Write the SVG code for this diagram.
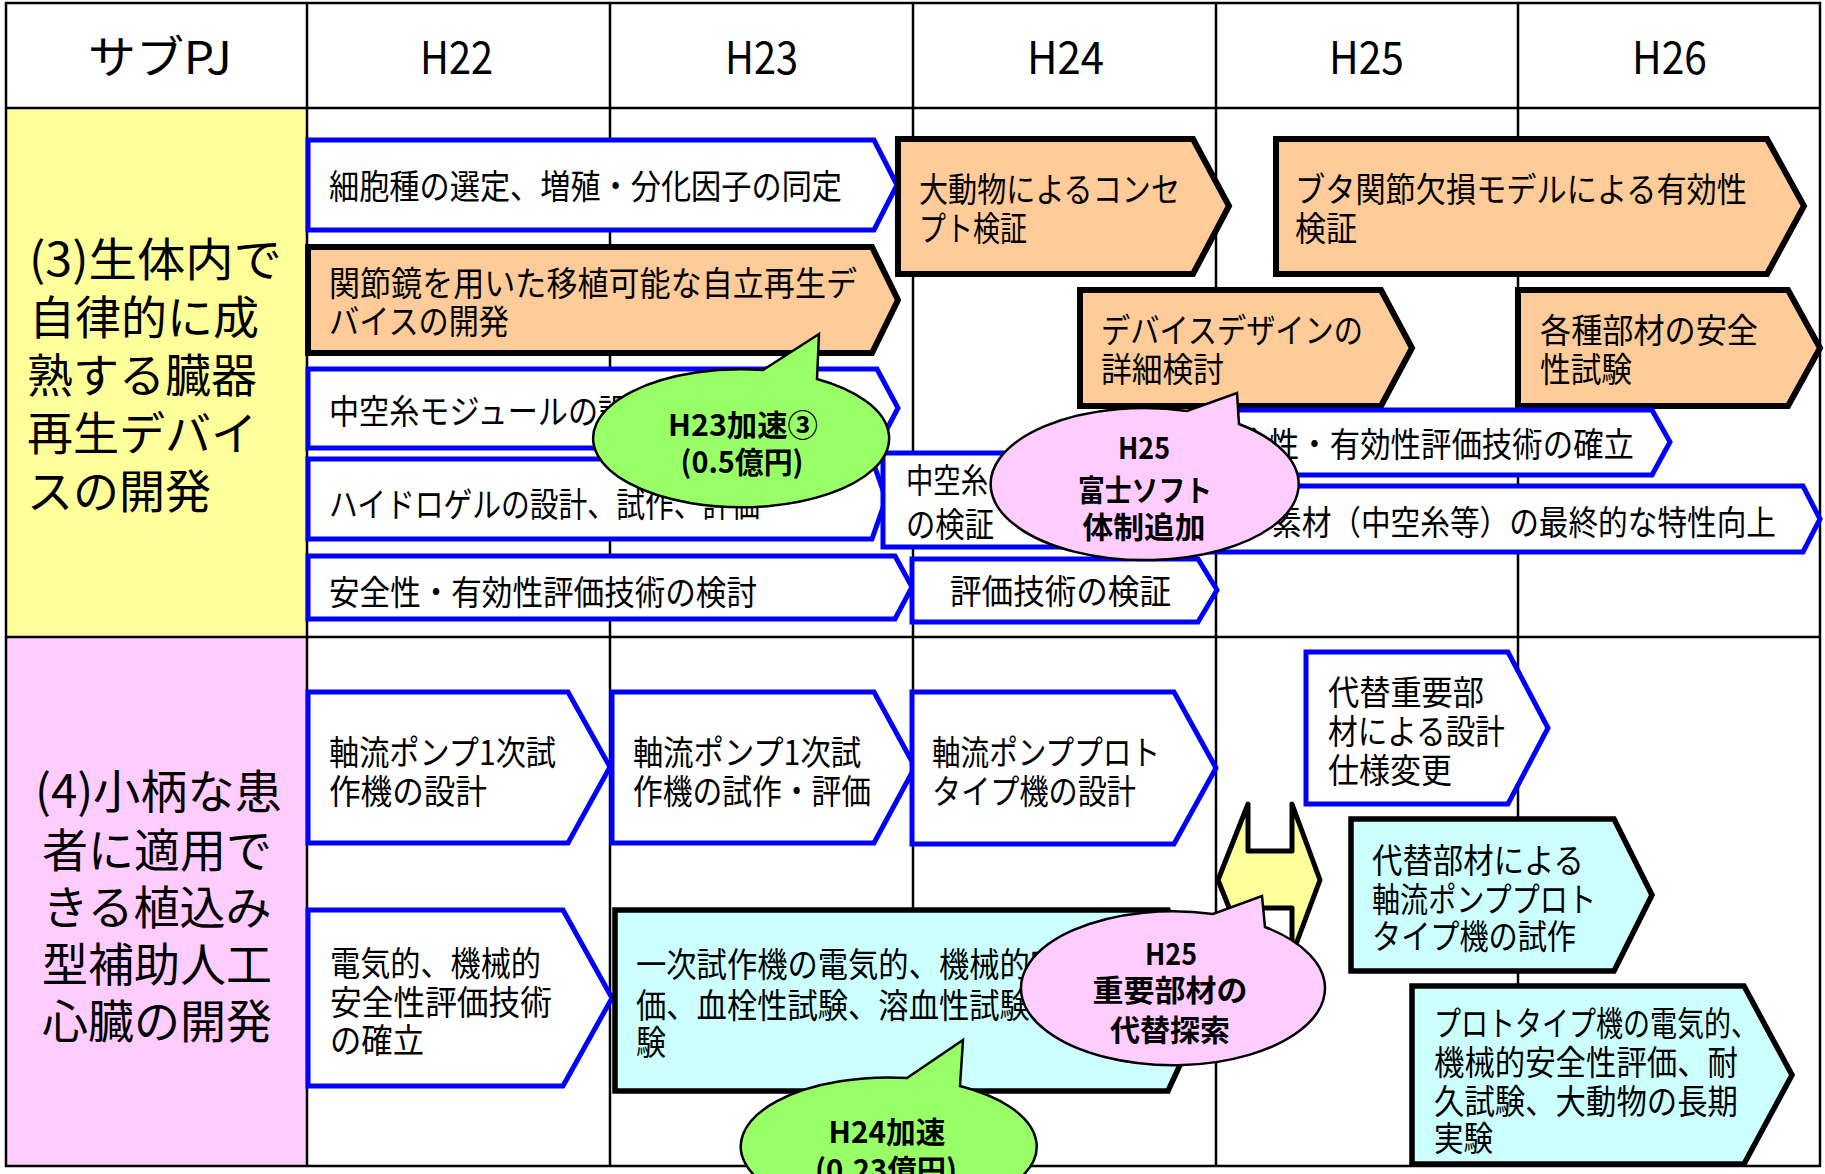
<svg xmlns="http://www.w3.org/2000/svg" width="1825" height="1174" viewBox="0 0 1825 1174">
<style>
.t{font-family:"Noto Sans CJK JP","Noto Sans",sans-serif;font-size:34px;fill:#000}
.hd{font-size:45px}
.lab{font-size:46px}
.b{font-weight:bold;font-size:30px;text-anchor:middle}
.mid{text-anchor:middle}
.blue{fill:#fff;stroke:#0000ff;stroke-width:5;stroke-linejoin:miter}
.org{fill:#ffcc99;stroke:#000;stroke-width:6;stroke-linejoin:miter}
.cyan{fill:#ccffff;stroke:#000;stroke-width:5.5;stroke-linejoin:miter}
.grid{stroke:#000;stroke-width:2.5;fill:none}
.bub{stroke:#000;stroke-width:2.5;stroke-linejoin:miter}
</style>
<rect x="0" y="0" width="1825" height="1174" fill="#fff"/>
<g id="table">
<rect x="6" y="108" width="301" height="529" fill="#ffff99"/>
<rect x="6" y="637" width="301" height="529" fill="#ffccff"/>
<path class="grid" d="M6 3H1820V1166H6Z M6 108H1820 M6 637H1820 M307 3V1166 M610 3V1166 M913 3V1166 M1216 3V1166 M1518 3V1166"/>
<text class="t hd" x="88" y="74" textLength="144" lengthAdjust="spacingAndGlyphs">サブPJ</text>
<text class="t hd" x="420" y="74" textLength="73" lengthAdjust="spacingAndGlyphs">H22</text>
<text class="t hd" x="725" y="74" textLength="73" lengthAdjust="spacingAndGlyphs">H23</text>
<text class="t hd" x="1027" y="74" textLength="77" lengthAdjust="spacingAndGlyphs">H24</text>
<text class="t hd" x="1329" y="74" textLength="75" lengthAdjust="spacingAndGlyphs">H25</text>
<text class="t hd" x="1632" y="74" textLength="75" lengthAdjust="spacingAndGlyphs">H26</text>
</g>
<g id="sub3">
<text class="t lab" x="29" y="276" textLength="253" lengthAdjust="spacingAndGlyphs">(3)生体内で</text>
<text class="t lab" x="29" y="334">自律的に成</text>
<text class="t lab" x="27" y="392">熟する臓器</text>
<text class="t lab" x="27" y="450">再生デバイ</text>
<text class="t lab" x="27" y="508">スの開発</text>
</g>
<g id="sub4">
<text class="t lab" x="35" y="808" textLength="247" lengthAdjust="spacingAndGlyphs">(4)小柄な患</text>
<text class="t lab mid" x="157" y="867">者に適用で</text>
<text class="t lab mid" x="157" y="924">きる植込み</text>
<text class="t lab mid" x="157" y="981">型補助人工</text>
<text class="t lab mid" x="157" y="1038">心臓の開発</text>
</g>
<g id="connectors"></g>
<g id="n1"><path class="blue" d="M308 140H874L897 185L874 230H308Z"/>
<text class="t" x="329" y="199" textLength="513" lengthAdjust="spacingAndGlyphs">細胞種の選定、増殖・分化因子の同定</text></g>
<g id="n2"><path class="org" d="M308 247H872L898 300L872 353H308Z"/>
<text class="t" x="329" y="296" textLength="528" lengthAdjust="spacingAndGlyphs">関節鏡を用いた移植可能な自立再生デ</text>
<text class="t" x="329" y="334" textLength="180" lengthAdjust="spacingAndGlyphs">バイスの開発</text></g>
<g id="n3"><path class="blue" d="M308 369H877L898 408L877 448H308Z"/>
<text class="t" x="329" y="424" textLength="510" lengthAdjust="spacingAndGlyphs">中空糸モジュールの設計、試作、評価</text></g>
<g id="n4"><path class="blue" d="M308 459H872L886 499L872 539H308Z"/>
<text class="t" x="329" y="517" textLength="431" lengthAdjust="spacingAndGlyphs">ハイドロゲルの設計、試作、評価</text></g>
<g id="n5"><path class="blue" d="M308 556H895L912 587L895 619H308Z"/>
<text class="t" x="329" y="605" textLength="428" lengthAdjust="spacingAndGlyphs">安全性・有効性評価技術の検討</text></g>
<g id="n6"><path class="org" d="M898 139H1193L1229 206L1193 274H898Z"/>
<text class="t" x="919" y="202" textLength="261" lengthAdjust="spacingAndGlyphs">大動物によるコンセ</text>
<text class="t" x="919" y="241" textLength="108" lengthAdjust="spacingAndGlyphs">プト検証</text></g>
<g id="n7"><path class="org" d="M1276 139H1767L1804 206L1767 274H1276Z"/>
<text class="t" x="1295" y="202" textLength="452" lengthAdjust="spacingAndGlyphs">ブタ関節欠損モデルによる有効性</text>
<text class="t" x="1295" y="241" textLength="62" lengthAdjust="spacingAndGlyphs">検証</text></g>
<g id="n8"><path class="org" d="M1080 290H1381L1412 348L1381 406H1080Z"/>
<text class="t" x="1101" y="343" textLength="262" lengthAdjust="spacingAndGlyphs">デバイスデザインの</text>
<text class="t" x="1101" y="382" textLength="123" lengthAdjust="spacingAndGlyphs">詳細検討</text></g>
<g id="n9"><path class="org" d="M1518 290H1788L1820 348L1788 406H1518Z"/>
<text class="t" x="1540" y="343" textLength="218" lengthAdjust="spacingAndGlyphs">各種部材の安全</text>
<text class="t" x="1540" y="382" textLength="92" lengthAdjust="spacingAndGlyphs">性試験</text></g>
<g id="n11"><path class="blue" d="M883 453H1150L1170 500L1150 547H883Z"/>
<text class="t" x="906" y="493" textLength="82" lengthAdjust="spacingAndGlyphs">中空糸</text>
<text class="t" x="906" y="537" textLength="88" lengthAdjust="spacingAndGlyphs">の検証</text></g>
<g id="n12"><path class="blue" d="M1150 486H1803L1820 519L1803 552H1150Z"/>
<text class="t" x="1272" y="535" textLength="504" lengthAdjust="spacingAndGlyphs">素材（中空糸等）の最終的な特性向上</text></g>
<g id="n10"><path class="blue" d="M1195 410H1652L1670 442L1652 475H1195Z"/>
<text class="t" x="1208" y="457" textLength="426" lengthAdjust="spacingAndGlyphs">安全性・有効性評価技術の確立</text></g>
<g id="n13"><path class="blue" d="M912 559H1198L1217 590L1198 622H912Z"/>
<text class="t" x="950" y="604" textLength="221" lengthAdjust="spacingAndGlyphs">評価技術の検証</text></g>
<g id="n14"><path class="blue" d="M308 692H568L610 767L568 843H308Z"/>
<text class="t" x="329" y="765" textLength="227" lengthAdjust="spacingAndGlyphs">軸流ポンプ1次試</text>
<text class="t" x="329" y="804" textLength="158" lengthAdjust="spacingAndGlyphs">作機の設計</text></g>
<g id="n15"><path class="blue" d="M612 692H874L915 767L874 843H612Z"/>
<text class="t" x="633" y="765" textLength="228" lengthAdjust="spacingAndGlyphs">軸流ポンプ1次試</text>
<text class="t" x="633" y="804" textLength="238" lengthAdjust="spacingAndGlyphs">作機の試作・評価</text></g>
<g id="n16"><path class="blue" d="M912 692H1174L1216 768L1174 844H912Z"/>
<text class="t" x="932" y="765" textLength="228" lengthAdjust="spacingAndGlyphs">軸流ポンププロト</text>
<text class="t" x="932" y="804" textLength="204" lengthAdjust="spacingAndGlyphs">タイプ機の設計</text></g>
<g id="n17"><path class="blue" d="M308 910H563L612 998L563 1086H308Z"/>
<text class="t" x="330" y="976" textLength="211" lengthAdjust="spacingAndGlyphs">電気的、機械的</text>
<text class="t" x="330" y="1015" textLength="222" lengthAdjust="spacingAndGlyphs">安全性評価技術</text>
<text class="t" x="330" y="1053" textLength="94" lengthAdjust="spacingAndGlyphs">の確立</text></g>
<g id="n19"><path class="blue" d="M1306 652H1508L1548 728L1508 804H1306Z"/>
<text class="t" x="1328" y="705" textLength="156" lengthAdjust="spacingAndGlyphs">代替重要部</text>
<text class="t" x="1328" y="744" textLength="177" lengthAdjust="spacingAndGlyphs">材による設計</text>
<text class="t" x="1328" y="783" textLength="124" lengthAdjust="spacingAndGlyphs">仕様変更</text></g>
<g id="n22"><path d="M1248 804V851H1292V804L1320 880L1292 955V908H1248V955L1218 880Z" fill="#ffff99" stroke="#000" stroke-width="5" stroke-linejoin="round"/></g>
<g id="n18"><path class="cyan" d="M615 910H1168L1210 1000L1168 1091H615Z"/>
<text class="t" x="636" y="977" textLength="515" lengthAdjust="spacingAndGlyphs">一次試作機の電気的、機械的安全性評</text>
<text class="t" x="636" y="1018" textLength="515" lengthAdjust="spacingAndGlyphs">価、血栓性試験、溶血性試験、耐久試</text>
<text class="t" x="636" y="1055" textLength="30" lengthAdjust="spacingAndGlyphs">験</text></g>
<g id="n20"><path class="cyan" d="M1351 819H1614L1652 895L1614 971H1351Z"/>
<text class="t" x="1372" y="873" textLength="212" lengthAdjust="spacingAndGlyphs">代替部材による</text>
<text class="t" x="1372" y="912" textLength="224" lengthAdjust="spacingAndGlyphs">軸流ポンププロト</text>
<text class="t" x="1372" y="949" textLength="204" lengthAdjust="spacingAndGlyphs">タイプ機の試作</text></g>
<g id="n21"><path class="cyan" d="M1412 986H1744L1792 1075L1744 1164H1412Z"/>
<text class="t" x="1434" y="1036" textLength="324" lengthAdjust="spacingAndGlyphs">プロトタイプ機の電気的、</text>
<text class="t" x="1434" y="1075" textLength="304" lengthAdjust="spacingAndGlyphs">機械的安全性評価、耐</text>
<text class="t" x="1434" y="1114" textLength="304" lengthAdjust="spacingAndGlyphs">久試験、大動物の長期</text>
<text class="t" x="1434" y="1151" textLength="59" lengthAdjust="spacingAndGlyphs">実験</text></g>
<g id="b1"><path class="bub" fill="#99ff66" d="M817 379A148 69 0 1 1 763 370L819 334Z"/>
<text class="t b" x="743" y="436" textLength="150" lengthAdjust="spacingAndGlyphs">H23加速③</text>
<text class="t b" x="742" y="473" textLength="123" lengthAdjust="spacingAndGlyphs">(0.5億円)</text></g>
<g id="b2"><path class="bub" fill="#ffccff" d="M1239 424A154 76 0 1 1 1187 411L1237 393Z"/>
<text class="t b" x="1144" y="459" textLength="52" lengthAdjust="spacingAndGlyphs">H25</text>
<text class="t b" x="1145" y="501" textLength="134" lengthAdjust="spacingAndGlyphs">富士ソフト</text>
<text class="t b" x="1144" y="538" textLength="123" lengthAdjust="spacingAndGlyphs">体制追加</text></g>
<g id="b3"><path class="bub" fill="#ffccff" d="M1265 927A152 77 0 1 1 1213 914L1262 896Z"/>
<text class="t b" x="1171" y="965" textLength="52" lengthAdjust="spacingAndGlyphs">H25</text>
<text class="t b" x="1170" y="1001" textLength="155" lengthAdjust="spacingAndGlyphs">重要部材の</text>
<text class="t b" x="1170" y="1041" textLength="120" lengthAdjust="spacingAndGlyphs">代替探索</text></g>
<g id="b4"><path class="bub" fill="#99ff66" d="M960 1086A148 69 0 1 1 907 1078L963 1040Z"/>
<text class="t b" x="887" y="1143" textLength="117" lengthAdjust="spacingAndGlyphs">H24加速</text>
<text class="t b" x="886" y="1181" textLength="142" lengthAdjust="spacingAndGlyphs">(0.23億円)</text></g>
</svg>
